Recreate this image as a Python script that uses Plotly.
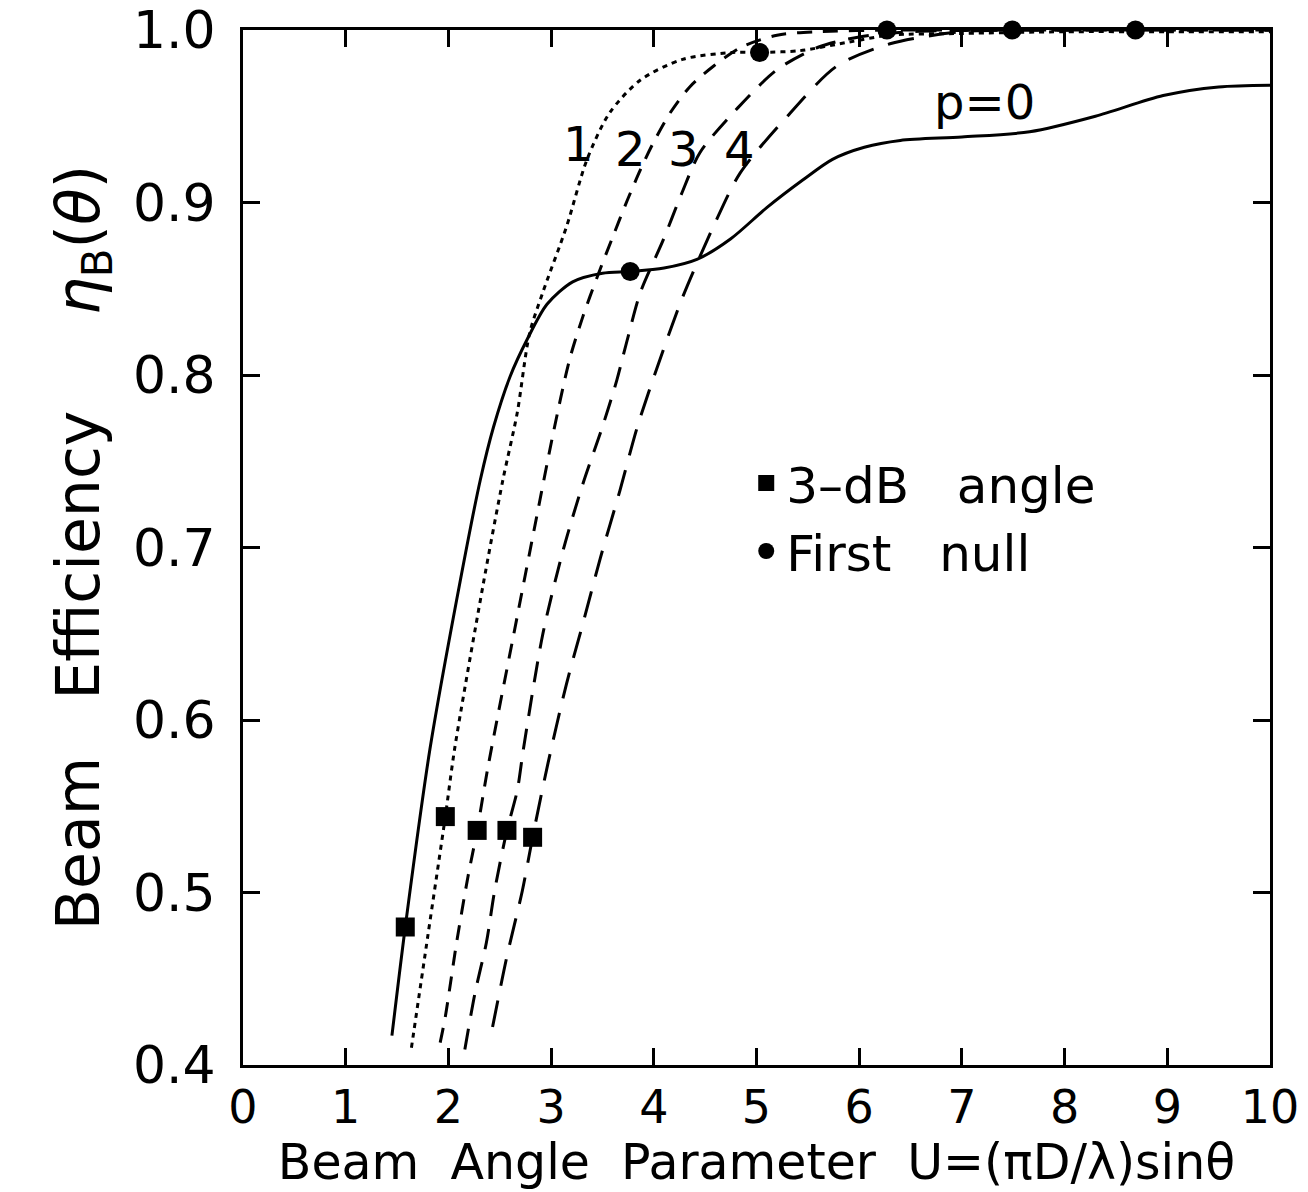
import plotly.graph_objects as go

# ---- data ----
p0_u = [1.45, 1.58, 1.82, 2.11, 2.31, 2.44, 2.60, 2.77, 2.96, 3.21, 3.50, 3.77, 4.1, 4.42, 4.75, 5.1, 5.45, 5.74, 6.05, 6.4, 7.0, 7.66, 8.3, 8.96, 9.5, 10.0]
p0_y = [0.417, 0.48, 0.583, 0.679, 0.739, 0.770, 0.799, 0.821, 0.841, 0.854, 0.859, 0.860, 0.862, 0.867, 0.879, 0.897, 0.913, 0.925, 0.932, 0.936, 0.938, 0.941, 0.950, 0.962, 0.967, 0.968]

p1_u = [1.64, 1.80, 1.97, 2.06, 2.34, 2.53, 2.67, 2.79, 2.92, 3.15, 3.35, 3.57, 3.87, 4.28, 4.77, 5.03, 5.42, 5.9, 6.3, 7.0, 8.0, 9.0, 10.0]
p1_y = [0.41, 0.475, 0.544, 0.583, 0.679, 0.739, 0.778, 0.824, 0.848, 0.886, 0.925, 0.952, 0.971, 0.983, 0.987, 0.987, 0.988, 0.993, 0.997, 0.998, 0.999, 0.999, 0.999]

p2_u = [1.92, 1.97, 2.08, 2.19, 2.28, 2.38, 2.67, 2.86, 3.02, 3.18, 3.31, 3.45, 3.60, 3.74, 3.87, 3.99, 4.16, 4.35, 4.58, 4.85, 5.2, 5.6, 6.3, 7.0, 8.0, 9.0, 10.0]
p2_y = [0.413, 0.428, 0.471, 0.509, 0.536, 0.571, 0.660, 0.718, 0.766, 0.809, 0.834, 0.857, 0.880, 0.901, 0.919, 0.934, 0.952, 0.967, 0.979, 0.990, 0.997, 0.999, 1.0, 1.0, 1.0, 1.0, 1.0]

p3_u = [2.16, 2.26, 2.37, 2.45, 2.57, 2.67, 2.73, 2.92, 3.12, 3.31, 3.50, 3.64, 3.74, 3.87, 4.09, 4.27, 4.45, 4.82, 5.2, 5.6, 6.0, 6.5, 7.5, 8.5, 10.0]
p3_y = [0.409, 0.442, 0.471, 0.501, 0.536, 0.559, 0.583, 0.650, 0.699, 0.737, 0.770, 0.797, 0.820, 0.848, 0.878, 0.905, 0.929, 0.955, 0.977, 0.990, 0.996, 0.999, 1.0, 1.0, 1.0]

p4_u = [2.43, 2.57, 2.72, 2.82, 2.97, 3.15, 3.31, 3.48, 3.67, 3.84, 4.06, 4.28, 4.58, 4.84, 5.30, 5.78, 6.3, 7.0, 8.0, 10.0]
p4_y = [0.422, 0.463, 0.501, 0.532, 0.575, 0.621, 0.656, 0.694, 0.733, 0.770, 0.809, 0.845, 0.886, 0.917, 0.950, 0.979, 0.992, 0.999, 1.0, 1.0]

sq_u = [1.58, 1.97, 2.28, 2.57, 2.82]
sq_y = [0.480, 0.544, 0.536, 0.536, 0.532]

dot_u = [3.77, 5.03, 6.27, 7.49, 8.69]
dot_y = [0.860, 0.987, 1.0, 1.0, 1.0]

curve_labels = ["1", "2", "3", "4", "p=0"]
label_u = [3.27, 3.77, 4.29, 4.83, 7.22]
label_y = [0.934, 0.931, 0.931, 0.931, 0.958]

x_ticks = list(range(0, 11))
y_ticks = [0.4, 0.5, 0.6, 0.7, 0.8, 0.9, 1.0]
y_ticktext = ["0.4", "0.5", "0.6", "0.7", "0.8", "0.9", "1.0"]

FONT = "DejaVu Sans"
NB = "\u00a0"

fig = go.Figure()

curves = [
    (p0_u, p0_y, "solid"),
    (p1_u, p1_y, "5px,5px"),
    (p2_u, p2_y, "15px,11px"),
    (p3_u, p3_y, "21px,13px"),
    (p4_u, p4_y, "27px,15px"),
]
for u, y, dash in curves:
    fig.add_trace(go.Scatter(
        x=u, y=y, mode="lines", showlegend=False,
        line=dict(color="black", width=3, dash=dash, shape="spline", smoothing=0.8),
        hoverinfo="skip",
    ))

fig.add_trace(go.Scatter(
    x=sq_u, y=sq_y, mode="markers", name="3" + "\u2013" + "dB" + NB * 3 + "angle",
    marker=dict(symbol="square", size=19, color="black"), cliponaxis=False,
))
fig.add_trace(go.Scatter(
    x=dot_u, y=dot_y, mode="markers", name="First" + NB * 3 + "null",
    marker=dict(symbol="circle", size=19, color="black"), cliponaxis=False,
))

for t, u, y in zip(curve_labels, label_u, label_y):
    fig.add_annotation(x=u, y=y, text=t, showarrow=False,
                       font=dict(family=FONT, size=48, color="black"),
                       xanchor="center", yanchor="middle")

axis_common = dict(
    showline=True, linecolor="black", linewidth=3, mirror="allticks",
    ticks="inside", ticklen=17, tickwidth=2.5, tickcolor="black",
    showgrid=False, zeroline=False, automargin=False,
)

fig.update_layout(
    width=1308, height=1192,
    margin=dict(l=243, r=38, t=30, b=127),
    paper_bgcolor="white", plot_bgcolor="white",
    font=dict(family=FONT, color="black"),
    xaxis=dict(range=[0, 10], tickvals=x_ticks, ticktext=[str(v) for v in x_ticks],
               ticklabelstandoff=0,
               tickfont=dict(family=FONT, size=46, color="black"),
               title=dict(text="Beam" + NB * 2 + "Angle" + NB * 2 + "Parameter" + NB * 2 + "U=(πD/λ)sinθ",
                          font=dict(family=FONT, size=49, color="black"), standoff=0),
               **axis_common),
    yaxis=dict(range=[0.4, 1.0], tickvals=y_ticks, ticktext=y_ticktext,
               ticklabelstandoff=14,
               tickfont=dict(family=FONT, size=52, color="black"),
               title=dict(text="Beam" + NB * 3 + "Efficiency" + NB * 5 + "<i>η</i><sub>B</sub>(<i>θ</i>)",
                          font=dict(family=FONT, size=60, color="black"), standoff=14),
               **axis_common),
    legend=dict(x=0.49, y=0.6, xanchor="left", yanchor="top",
                font=dict(family=FONT, size=50, color="black"),
                bgcolor="rgba(0,0,0,0)", itemsizing="trace", tracegroupgap=0),
    showlegend=True,
)

fig.write_html("out.html")
